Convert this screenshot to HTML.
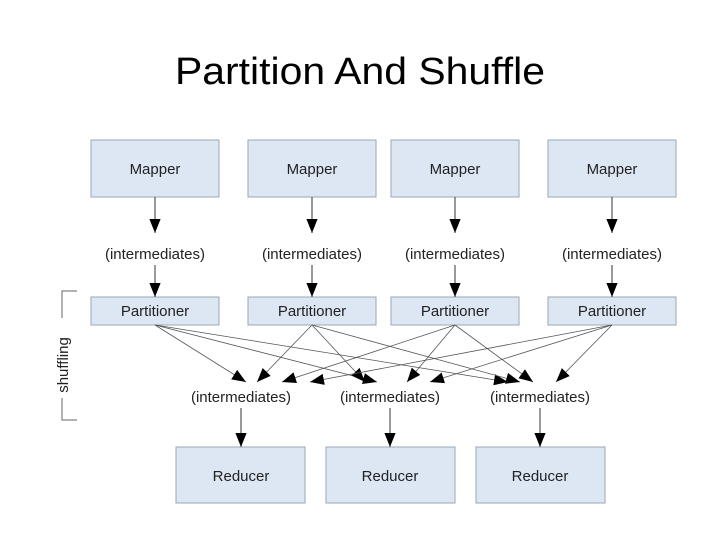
<!DOCTYPE html>
<html><head><meta charset="utf-8"><style>
body{margin:0;background:#fff;}
svg text{font-family:"Liberation Sans",Arial,sans-serif;}
</style></head><body>
<svg width="720" height="540" viewBox="0 0 720 540" xmlns="http://www.w3.org/2000/svg">
<defs>
<marker id="b" viewBox="0 0 10 10" refX="10" refY="5" markerWidth="14" markerHeight="14" markerUnits="userSpaceOnUse" orient="auto"><path d="M0,1L10,5L0,9z" fill="#000"/></marker></defs>
<text x="360" y="84" font-size="38" text-anchor="middle" fill="#000" textLength="370" lengthAdjust="spacingAndGlyphs">Partition And Shuffle</text>
<g fill="#dde7f3" stroke="#9aa7b5" stroke-width="1">
<rect x="91" y="140" width="128" height="57"/><rect x="248" y="140" width="128" height="57"/><rect x="391" y="140" width="128" height="57"/><rect x="548" y="140" width="128" height="57"/>
<rect x="91" y="297" width="128" height="28"/><rect x="248" y="297" width="128" height="28"/><rect x="391" y="297" width="128" height="28"/><rect x="548" y="297" width="128" height="28"/>
<rect x="176" y="447" width="129" height="56"/><rect x="326" y="447" width="129" height="56"/><rect x="476" y="447" width="129" height="56"/>
</g>
<g font-size="15" text-anchor="middle" fill="#222">
<text x="155" y="174">Mapper</text><text x="312" y="174">Mapper</text><text x="455" y="174">Mapper</text><text x="612" y="174">Mapper</text>
<text x="155" y="259">(intermediates)</text><text x="312" y="259">(intermediates)</text><text x="455" y="259">(intermediates)</text><text x="612" y="259">(intermediates)</text>
<text x="155" y="316">Partitioner</text><text x="312" y="316">Partitioner</text><text x="455" y="316">Partitioner</text><text x="612" y="316">Partitioner</text>
<text x="241" y="402">(intermediates)</text><text x="390" y="402">(intermediates)</text><text x="540" y="402">(intermediates)</text>
<text x="241" y="481">Reducer</text><text x="390" y="481">Reducer</text><text x="540" y="481">Reducer</text>
</g>
<g stroke="#333" stroke-width="1" marker-end="url(#b)">
<line x1="155" y1="197" x2="155" y2="233"/><line x1="312" y1="197" x2="312" y2="233"/><line x1="455" y1="197" x2="455" y2="233"/><line x1="612" y1="197" x2="612" y2="233"/>
<line x1="155" y1="265" x2="155" y2="297"/><line x1="312" y1="265" x2="312" y2="297"/><line x1="455" y1="265" x2="455" y2="297"/><line x1="612" y1="265" x2="612" y2="297"/>
<line x1="241" y1="408" x2="241" y2="447"/><line x1="390" y1="408" x2="390" y2="447"/><line x1="540" y1="408" x2="540" y2="447"/>
</g>
<g stroke="#555" stroke-width="0.8" marker-end="url(#b)">
<line x1="155" y1="325" x2="246" y2="382"/><line x1="155" y1="325" x2="377" y2="382"/><line x1="155" y1="325" x2="508" y2="382"/>
<line x1="312" y1="325" x2="257" y2="382"/><line x1="312" y1="325" x2="365" y2="382"/><line x1="312" y1="325" x2="520" y2="382"/>
<line x1="455" y1="325" x2="282" y2="382"/><line x1="455" y1="325" x2="407" y2="382"/><line x1="455" y1="325" x2="533" y2="382"/>
<line x1="612" y1="325" x2="310" y2="382"/><line x1="612" y1="325" x2="430" y2="382"/><line x1="612" y1="325" x2="556" y2="382"/>
</g>
<g stroke="#666" stroke-width="1" fill="none">
<polyline points="77,291 62,291 62,318"/><polyline points="62,398 62,420 77,420"/>
</g>
<text transform="translate(68,365) rotate(-90)" font-size="15" text-anchor="middle" fill="#222">shuffling</text>
</svg>
</body></html>
